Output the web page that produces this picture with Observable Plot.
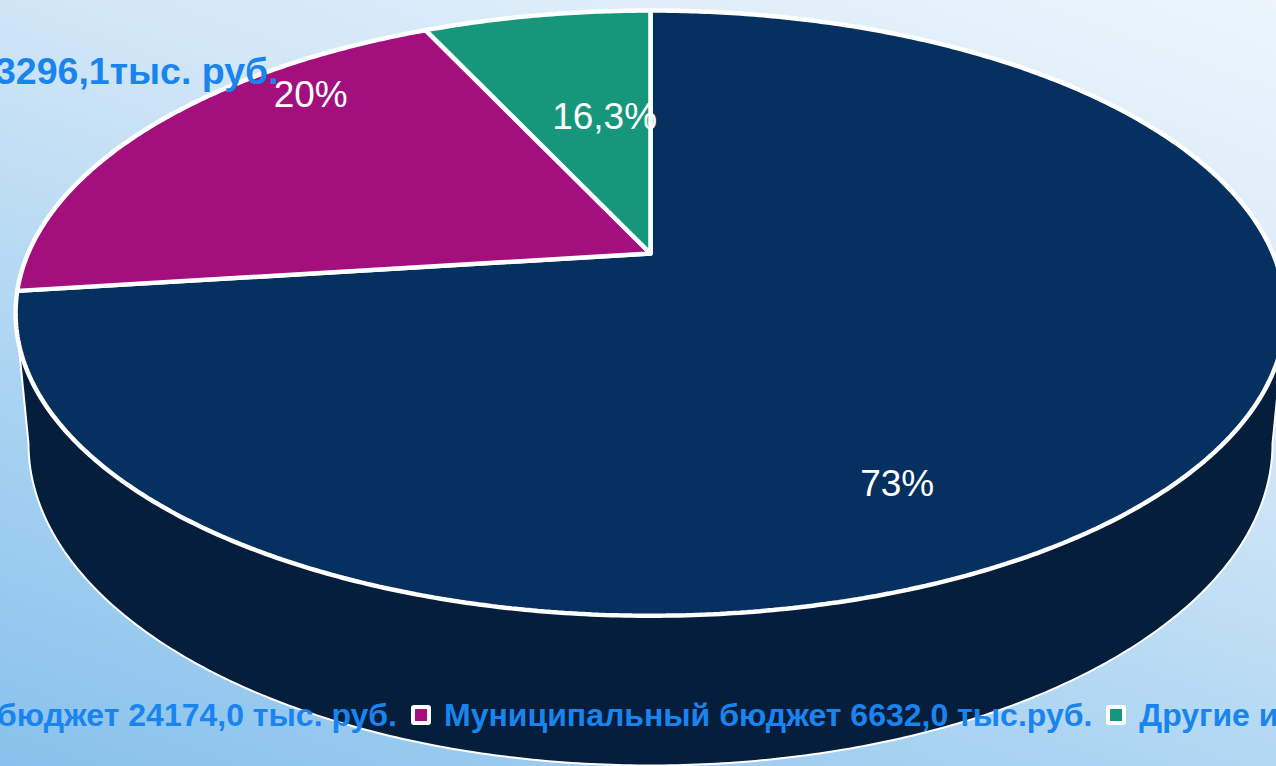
<!DOCTYPE html>
<html><head><meta charset="utf-8">
<script src="https://cdn.jsdelivr.net/npm/d3@7"></script>
<script src="https://cdn.jsdelivr.net/npm/@observablehq/plot@0.6"></script>
<style>
html,body{margin:0;padding:0;width:1276px;height:766px;overflow:hidden;}
body{position:relative;background:linear-gradient(200deg,#ecf5fc 0%,#d3e7f7 35%,#abd4f2 68%,#88c1ec 100%);font-family:"Liberation Sans",Arial,sans-serif;}
#chart{position:absolute;left:0;top:0;}
#legend{position:absolute;top:699px;left:0;white-space:nowrap;display:flex;align-items:center;font-family:"Liberation Sans Narrow","Liberation Sans",sans-serif;font-weight:bold;font-size:32px;color:#1a84ee;line-height:32px;}
.item{display:flex;align-items:center;margin-right:14px;}
.sw{box-sizing:border-box;width:20px;height:20px;border:4px solid #fff;border-radius:3px;margin-right:13px;}
</style></head><body>
<div id="chart"></div>
<div id="legend"></div>
<script>
// ---- data ----
const categories = ["Областной бюджет", "Муниципальный бюджет", "Другие источники"];
const amounts = ["24174,0 тыс. руб.", "6632,0 тыс.руб.", "3296,1тыс. руб."];
const shares = [73, 20, 7];
const pctLabels = ["73%", "20%", "16,3%"];
const colors = ["#06305f", "#a30f7c", "#16967b"];
const sideColor = "#041e3c";

// ---- 3D perspective projection of the pie disc ----
const P = {cx: 650, a: 622.5, b: 241, c: 253, w: -0.197, vh: 0.02, eh: 135.6};
function proj(phiDeg, r, z) {
  const t = phiDeg * Math.PI / 180;
  const X = r * Math.sin(t), Y = -r * Math.cos(t);
  const D = 1 + P.w * Y + P.vh * z;
  return {x: P.cx + P.a * X / D, y: (P.b * Y + P.c + P.eh * z) / D};
}
function arc(from, to, r, z) {
  const n = Math.max(2, Math.ceil(Math.abs(to - from) / 0.5));
  return d3.range(n + 1).map(i => proj(from + (to - from) * i / n, r, z));
}

const total = d3.sum(shares);
let acc = 0;
const slices = shares.map((v, i) => {
  const start = acc / total * 360;
  acc += v;
  const end = acc / total * 360;
  const center = proj(0, 0, 0);
  return {
    i, start, end, mid: (start + end) / 2,
    pts: [center, ...arc(start, end, 1, 0), center]
  };
});

// visible side wall (front), between the silhouette tangents
const tTop = Math.acos(P.w) * 180 / Math.PI;
const tBot = Math.acos(P.w / (1 + P.vh)) * 180 / Math.PI;
const sidePts = [...arc(tTop, 360 - tTop, 1, 0), ...arc(360 - tBot, tBot, 1, 1)];
sidePts.push(sidePts[0]);

// label anchors (mid-angle of slice)
const labelR = [0.5, 0.66, 0.37];
const anchors = slices.map(s => ({...proj(s.mid, labelR[s.i], 0), text: pctLabels[s.i]}));

const marks = [
  Plot.line(sidePts, {x: "x", y: "y", fill: sideColor, stroke: "#fff", strokeWidth: 2, curve: "linear"})
];
slices.forEach(s => marks.push(
  Plot.line(s.pts, {x: "x", y: "y", fill: colors[s.i], stroke: "#fff", strokeWidth: 4.5, strokeLinejoin: "miter", curve: "linear"})
));
const pctOffsets = [[-3, 128], [-1, -71], [1, -38]];
anchors.forEach((a, i) => marks.push(
  Plot.text([a], {x: "x", y: "y", text: "text", fill: "#fff", fontSize: 37, fontFamily: "Liberation Sans",
    dx: pctOffsets[i][0], dy: pctOffsets[i][1]})
));
// outside value label of the third category
marks.push(Plot.text([anchors[2]], {x: "x", y: "y", text: () => categories[2] + " " + amounts[2],
  fill: "#1a84ee", fontSize: 37.5, fontWeight: "bold", fontFamily: "Liberation Sans", textAnchor: "end",
  dx: -325, dy: -83}));

const chart = Plot.plot({
  width: 1276, height: 766,
  margin: 0,
  x: {domain: [0, 1276], range: [0, 1276], axis: null},
  y: {domain: [0, 766], range: [0, 766], axis: null},
  style: {background: "transparent", overflow: "visible"},
  marks
});
document.getElementById("chart").appendChild(chart);

// ---- legend ----
const legend = document.getElementById("legend");
categories.forEach((c, i) => {
  const it = document.createElement("div");
  it.className = "item";
  const sw = document.createElement("div");
  sw.className = "sw";
  sw.style.background = colors[i];
  const tx = document.createElement("span");
  tx.textContent = c + " " + amounts[i];
  it.appendChild(sw); it.appendChild(tx);
  legend.appendChild(it);
});
const sw2 = legend.querySelectorAll(".sw")[1];
const off = sw2.getBoundingClientRect().left - legend.getBoundingClientRect().left;
legend.style.left = (411 - off) + "px";
</script>
</body></html>
